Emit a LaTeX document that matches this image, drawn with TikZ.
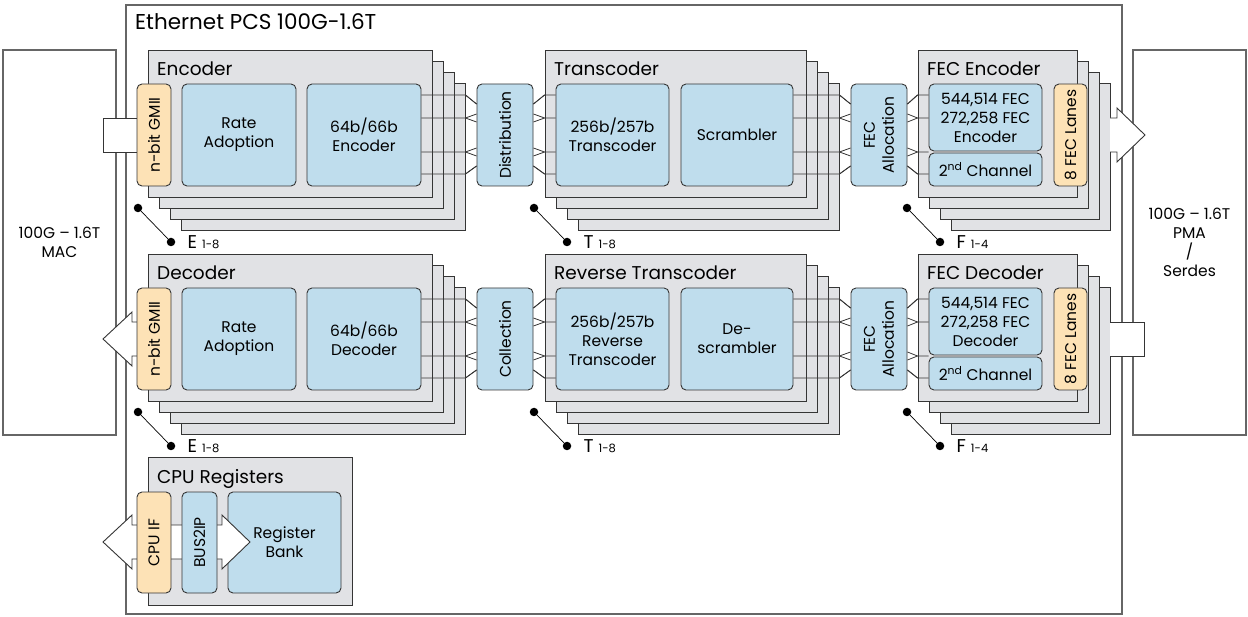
\documentclass[tikz,border=0pt]{standalone}
\usepackage{fontspec}
\setmainfont{Poppins}
\usetikzlibrary{positioning, calc}

\definecolor{boxgray}{HTML}{E1E2E5}
\definecolor{blkblue}{HTML}{BFDDED}
\definecolor{ifpeach}{HTML}{FDE2B6}
\definecolor{edge}{HTML}{353535}

% lanes: block -> fan block (straight run, then fan in)
\newcommand{\fanin}[3]{%
  \path (#1.east |- #2.center) coordinate (fanA) (#2.north) coordinate (fanB);
  \foreach \dy/\ea/\eb in {-40/-31/-31, -17/-21/-13, 17/13/21, 39/31/31}{
    \draw[lane] ($(fanA)+(0,\dy)$) -- ++(#3,0) coordinate (fanC) -- ($(fanB)+(0,\ea)$);
    \draw[lane] (fanC) -- ($(fanB)+(0,\eb)$);
  }}
% lanes: fan block -> next stack (fan out, then straight run)
\newcommand{\fanout}[2]{%
  \path (#1.south) coordinate (fanB) (#2.west |- #1.center) coordinate (fanA);
  \foreach \dy/\ea/\eb in {-40/-31/-31, -17/-21/-13, 17/13/21, 39/31/31}{
    \draw[lane] ($(fanB)+(0,\ea)$) -- ($(fanA)+(-11,\dy)$) coordinate (fanC) -- ++(11,0);
    \draw[lane] ($(fanB)+(0,\eb)$) -- (fanC);
  }}

\begin{document}
\begin{tikzpicture}[
    x=1pt, y=-1pt,          % pixel grid, y downwards
    outerbox/.style={draw=black!60, line width=1.1pt},
    stack/.style={draw=edge, fill=boxgray, line width=0.9pt},
    blk/.style={draw=edge, fill=blkblue, line width=0.9pt, rounded corners=5pt,
                inner sep=0pt, align=center, font=\fontsize{15.5}{19}\selectfont},
    ifblk/.style={blk, fill=ifpeach},
    ttl/.style={anchor=base west, inner sep=0pt, font=\fontsize{18.5}{20}\selectfont},
    lane/.style={draw=edge, line width=0.8pt},
    dotmark/.style={circle, fill=black, inner sep=0pt, minimum size=8.5pt},
    marklabel/.style={inner sep=0pt, font=\fontsize{18.5}{20}\selectfont},
    bigarrow/.style={draw=edge, fill=white, line width=0.9pt}
]
    \useasboundingbox (0,0) rectangle (1248,617);

    % --- 1. MAC, PMA and the PCS frame ---
    \node[outerbox, minimum width=113pt, minimum height=385pt, align=center,
          font=\fontsize{15.5}{19}\selectfont] (mac) at (59.5,242.5) {100G -- 1.6T\\MAC};
    \node[outerbox, minimum width=113pt, minimum height=385pt, align=center,
          font=\fontsize{15.5}{19}\selectfont] (pma) at (1189.5,242.5) {100G -- 1.6T\\PMA\\/\\Serdes};
    \draw[outerbox] (126,5) rectangle (1122,614);
    \node[anchor=base west, inner sep=0pt, font=\fontsize{21.5}{24}\selectfont] (pcs) at (135,30) {Ethernet PCS 100G-1.6T};

    % --- 2. Stacked boxes (3 copies behind the front one) ---
    \foreach \s in {33,22,11} {
        \draw[stack] (148+\s,50+\s) rectangle (432+\s,197+\s);
        \draw[stack] (545+\s,50+\s) rectangle (806+\s,197+\s);
        \draw[stack] (918+\s,50+\s) rectangle (1077+\s,197+\s);
        \draw[stack] (148+\s,254+\s) rectangle (432+\s,401+\s);
        \draw[stack] (545+\s,254+\s) rectangle (806+\s,401+\s);
        \draw[stack] (918+\s,254+\s) rectangle (1077+\s,401+\s);
    }
    \draw[stack] (148,50) rectangle (432,197);
    \draw[stack] (545,50) rectangle (806,197);
    \draw[stack] (918,50) rectangle (1077,197);
    \draw[stack] (148,254) rectangle (432,401);
    \draw[stack] (545,254) rectangle (806,401);
    \draw[stack] (918,254) rectangle (1077,401);
    \draw[stack] (148,457) rectangle (352,605);

    \node[ttl] (enc_title) at (157,76) {Encoder};
    \node[ttl] (trans_title) at (554,76) {Transcoder};
    \node[ttl] (fecenc_title) at (927,76) {FEC Encoder};
    \node[ttl] (dec_title) at (157,280) {Decoder};
    \node[ttl] (rtrans_title) at (554,280) {Reverse Transcoder};
    \node[ttl] (fecdec_title) at (927,280) {FEC Decoder};
    \node[ttl] (cpu_title) at (157,483) {CPU Registers};

    % --- 3. Block arrows (in and out) ---
    \draw[bigarrow] (137,118) -- (103,118) -- (103,152) -- (137,152);
    \draw[bigarrow] (1110,118) -- (1117,118) -- (1117,108) -- (1145,135) -- (1117,162) -- (1117,152) -- (1110,152);
    \draw[bigarrow] (137,322) -- (132,322) -- (132,312) -- (103,339) -- (132,366) -- (132,356) -- (137,356);
    \draw[bigarrow] (1110,322) -- (1144,322) -- (1144,356) -- (1110,356);

    % --- 4. Encoder row ---
    \node[ifblk, rotate=90, minimum width=102pt, minimum height=34pt] (enc_gmii) at (154,135) {n-bit GMII};
    \node[blk, minimum width=114pt, minimum height=102pt] (enc_rate) at (239,135) {Rate\\Adoption};
    \node[blk, minimum width=114pt, minimum height=102pt] (enc_coder) at (364,135) {64b/66b\\Encoder};
    \node[blk, rotate=90, minimum width=102pt, minimum height=56pt] (dist) at (505,135) {Distribution};
    \node[blk, minimum width=113pt, minimum height=102pt] (trans) at (612.5,135) {256b/257b\\Transcoder};
    \node[blk, minimum width=112pt, minimum height=102pt] (scram) at (737,135) {Scrambler};
    \node[blk, rotate=90, minimum width=102pt, minimum height=56pt] (fec_alloc) at (879,135) {FEC\\Allocation};
    \node[blk, minimum width=113pt, minimum height=67pt] (fec_enc) at (985.5,117.5) {544,514 FEC\\272,258 FEC\\Encoder};
    \node[blk, minimum width=113pt, minimum height=33pt] (fec_ch2) at (985.5,169.5) {2\textsuperscript{nd} Channel};
    \node[ifblk, rotate=90, minimum width=102pt, minimum height=33pt] (fec_lanes) at (1070.5,135) {8 FEC Lanes};

    \fanin{enc_coder}{dist}{44}
    \fanout{dist}{trans}
    \fanin{scram}{fec_alloc}{46}
    \fanout{fec_alloc}{fec_enc}

    % --- 5. Decoder row ---
    \node[ifblk, rotate=90, minimum width=102pt, minimum height=34pt] (dec_gmii) at (154,339) {n-bit GMII};
    \node[blk, minimum width=114pt, minimum height=102pt] (dec_rate) at (239,339) {Rate\\Adoption};
    \node[blk, minimum width=114pt, minimum height=102pt] (dec_coder) at (364,339) {64b/66b\\Decoder};
    \node[blk, rotate=90, minimum width=102pt, minimum height=56pt] (coll) at (505,339) {Collection};
    \node[blk, minimum width=113pt, minimum height=102pt] (rtrans) at (612.5,339) {256b/257b\\Reverse\\Transcoder};
    \node[blk, minimum width=112pt, minimum height=102pt] (descram) at (737,339) {De-\\scrambler};
    \node[blk, rotate=90, minimum width=102pt, minimum height=56pt] (fec_alloc2) at (879,339) {FEC\\Allocation};
    \node[blk, minimum width=113pt, minimum height=67pt] (fec_dec) at (985.5,321.5) {544,514 FEC\\272,258 FEC\\Decoder};
    \node[blk, minimum width=113pt, minimum height=33pt] (fec_ch2b) at (985.5,373.5) {2\textsuperscript{nd} Channel};
    \node[ifblk, rotate=90, minimum width=102pt, minimum height=33pt] (fec_lanes2) at (1070.5,339) {8 FEC Lanes};

    \fanin{dec_coder}{coll}{44}
    \fanout{coll}{rtrans}
    \fanin{descram}{fec_alloc2}{46}
    \fanout{fec_alloc2}{fec_dec}

    % --- 6. CPU registers ---
    \node[blk, minimum width=113pt, minimum height=101pt] (regbank) at (284.5,542.5) {Register\\Bank};
    \draw[bigarrow] (132,525) -- (222,525) -- (222,515) -- (250,542) -- (222,569) -- (222,559)
        -- (132,559) -- (132,569) -- (103,542) -- (132,515) -- cycle;
    \node[ifblk, rotate=90, minimum width=101pt, minimum height=34pt] (cpuif) at (154,542.5) {CPU IF};
    \node[blk, rotate=90, minimum width=101pt, minimum height=35pt] (bus2ip) at (199.5,542.5) {BUS2IP};

    % --- 7. Instance markers ---
    \foreach \nm/\x/\y/\txt in {e1/138/208/E, t1/534/208/T, f1/907/208/F,
                                e2/138/412/E, t2/534/412/T, f2/907/412/F} {
        \node[dotmark] (\nm a) at (\x,\y) {};
        \node[dotmark] (\nm b) at (\x+33,\y+34) {};
        \draw[line width=0.7pt] (\nm a) -- (\nm b);
    }
    \node[marklabel, right=12pt of e1b] (e1lbl) {E\hspace{5pt}{\fontsize{11.5}{12}\selectfont 1-8}};
    \node[marklabel, right=12pt of t1b] (t1lbl) {T\hspace{5pt}{\fontsize{11.5}{12}\selectfont 1-8}};
    \node[marklabel, right=12pt of f1b] (f1lbl) {F\hspace{5pt}{\fontsize{11.5}{12}\selectfont 1-4}};
    \node[marklabel, right=12pt of e2b] (e2lbl) {E\hspace{5pt}{\fontsize{11.5}{12}\selectfont 1-8}};
    \node[marklabel, right=12pt of t2b] (t2lbl) {T\hspace{5pt}{\fontsize{11.5}{12}\selectfont 1-8}};
    \node[marklabel, right=12pt of f2b] (f2lbl) {F\hspace{5pt}{\fontsize{11.5}{12}\selectfont 1-4}};

\end{tikzpicture}
\end{document}
